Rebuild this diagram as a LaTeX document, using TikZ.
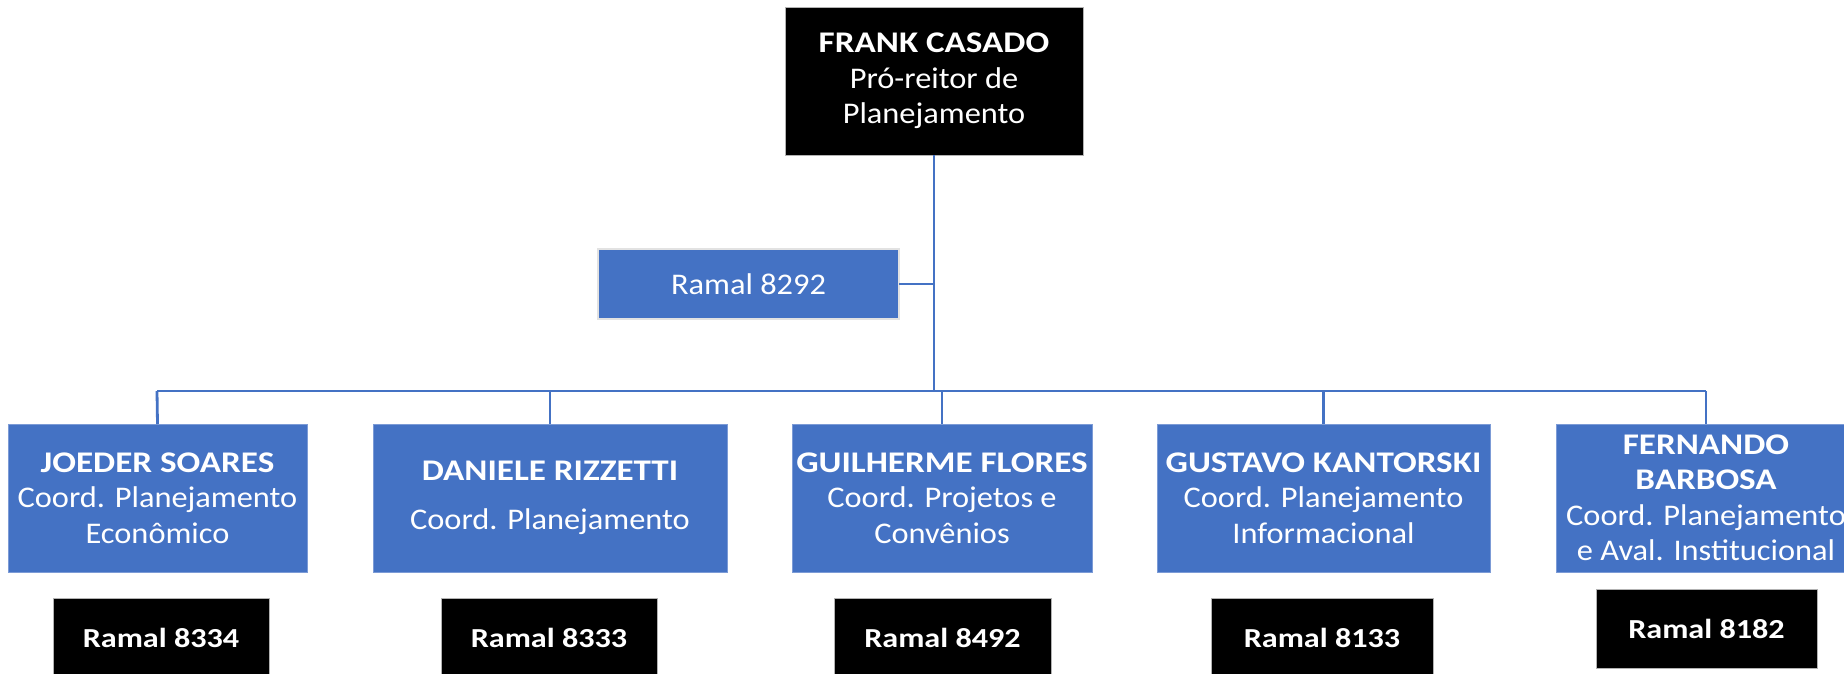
\documentclass[tikz,border=0pt]{standalone}
\usepackage{fontspec}
\setmainfont{Carlito}[FakeStretch=1.08, BoldFeatures={FakeStretch=1.17}]
\definecolor{obl}{HTML}{4472C4}
\definecolor{oedge}{HTML}{7C9BD6}
\definecolor{gedge}{HTML}{E2E2E2}
\tikzset{
  base/.style={inner sep=0pt, outer sep=0pt, align=center, text=white,
    font=\fontsize{30}{35.5}\selectfont},
  bluebox/.style={base, fill=obl, draw=oedge, line width=1pt, minimum height=148pt},
  blackbox/.style={base, fill=black, draw=gray!60, line width=0.8pt,
    font=\fontsize{27.5}{34}\selectfont\bfseries, minimum height=79pt},
  topbox/.style={base, fill=black, draw=gray!60, line width=0.8pt,
    minimum width=298pt, minimum height=148pt},
  extbox/.style={base, fill=obl, draw=gedge, line width=2.5pt,
    minimum width=301pt, minimum height=70pt, font=\fontsize{30}{36}\selectfont},
  link/.style={draw=obl, line width=2.8pt}
}
\begin{document}
\begin{tikzpicture}[x=1pt,y=-1pt]
\useasboundingbox (0,0) rectangle (1844,673);
\clip (0,0) rectangle (1844,673);

\coordinate (bl) at (157,391);
\coordinate (br) at (1706,391);
\coordinate (bm) at (934,391);
\coordinate (em) at (934,284);

\node[topbox] (top) at (934,81) {\textbf{FRANK CASADO}\\Pró-reitor de\\Planejamento};
\node[extbox] (r0) at (748.5,284) {Ramal 8292};

\node[bluebox, minimum width=299pt] (c1) at (157.5,498)
  {\textbf{JOEDER SOARES}\\Coord. Planejamento\\Econômico};
\node[bluebox, minimum width=354pt] (c2) at (550,498)
  {\textbf{DANIELE RIZZETTI}\\[14pt]Coord. Planejamento};
\node[bluebox, minimum width=300pt] (c3) at (942,498)
  {\textbf{GUILHERME FLORES}\\Coord. Projetos e\\Convênios};
\node[bluebox, minimum width=333pt] (c4) at (1323.5,498)
  {\textbf{GUSTAVO KANTORSKI}\\Coord. Planejamento\\Informacional};
\node[bluebox, minimum width=300pt] (c5) at (1706,498)
  {\textbf{FERNANDO}\\\textbf{BARBOSA}\\Coord. Planejamento\\e Aval. Institucional};

\node[blackbox, minimum width=216pt] (r1) at (161,637.5) {Ramal 8334};
\node[blackbox, minimum width=216pt] (r2) at (549,637.5) {Ramal 8333};
\node[blackbox, minimum width=217pt] (r3) at (942.5,637.5) {Ramal 8492};
\node[blackbox, minimum width=222pt] (r4) at (1322,637.5) {Ramal 8133};
\node[blackbox, minimum width=221pt] (r5) at (1706.5,628.5) {Ramal 8182};

\draw[link] (top.south) -- (bm);
\draw[link] (r0.east) -- (em);
\draw[link] (bl) -- (br);
\draw[link] (bl) -- (c1.north);
\draw[link] (c2.north |- bm) -- (c2.north);
\draw[link] (c3.north |- bm) -- (c3.north);
\draw[link] (c4.north |- bm) -- (c4.north);
\draw[link] (br) -- (c5.north);
\end{tikzpicture}
\end{document}
